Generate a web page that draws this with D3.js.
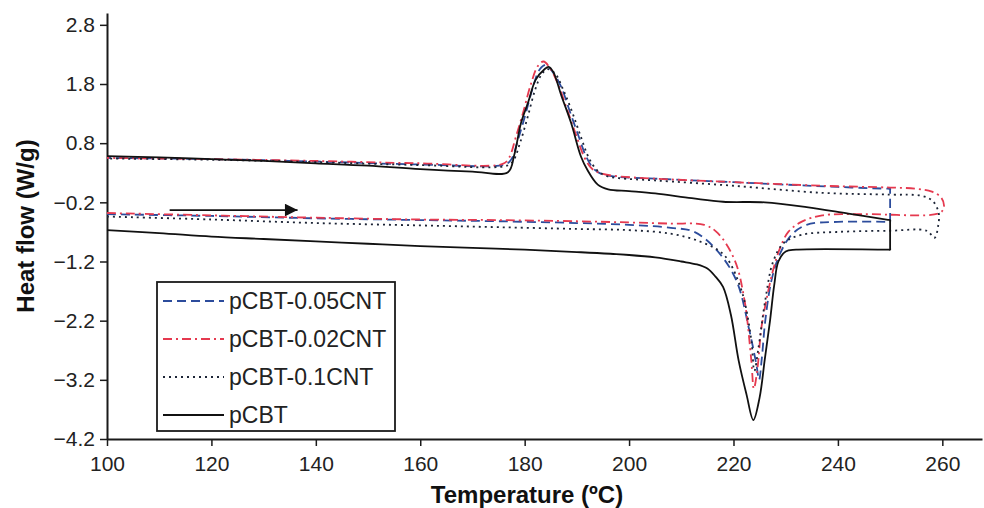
<!DOCTYPE html>
<html>
<head>
<meta charset="utf-8">
<script src="https://cdn.jsdelivr.net/npm/d3@7.9.0/dist/d3.min.js"></script>
<style>
  body { margin: 0; background: #fff; }
  svg { display: block; font-family: "Liberation Sans", Arial, sans-serif; }
</style>
</head>
<body>
<svg id="chart"></svg>
<script>
// DSC heat flow curves, heating (lower) then cooling (upper), [T, W/g]
const xTicks = [100, 120, 140, 160, 180, 200, 220, 240, 260];
const yTicks = [-4.2, -3.2, -2.2, -1.2, -0.2, 0.8, 1.8, 2.8];

const pcbt = [
  [100,-0.67],[110,-0.72],[120,-0.78],[130,-0.82],[140,-0.86],[150,-0.9],[160,-0.94],[170,-0.97],
  [180,-1.0],[190,-1.04],[200,-1.09],[205,-1.13],[210,-1.2],[213,-1.25],[215,-1.32],[216.5,-1.45],
  [218,-1.63],[219.5,-2.1],[221,-2.88],[222.5,-3.45],[223.8,-3.88],[225,-3.5],[226,-2.85],[227,-2.2],
  [227.8,-1.6],[228.6,-1.2],[230,-1.03],[232,-1.0],[249.7,-1.0],[250,-1.0],[250,-0.97],
  [250,-0.53],[250,-0.5],[249.6,-0.495],[242,-0.39],[234,-0.28],[226,-0.2],[218,-0.19],[212,-0.13],
  [205,-0.05],[200,-0.01],[196,0.02],[194,0.1],[192,0.35],[190.8,0.57],[188.9,1.14],[187,1.61],
  [185.5,2.0],[184.6,2.09],[183.8,2.05],[182.1,1.87],[180.7,1.5],[179.3,1.14],[178,0.6],[176.8,0.31],
  [170,0.32],[160,0.36],[150,0.42],[140,0.46],[130,0.5],[120,0.53],[110,0.56],[100,0.58]
];

const cnt002 = [
  [100,-0.38],[120,-0.42],[140,-0.46],[160,-0.49],[175,-0.5],[190,-0.52],[200,-0.54],[208,-0.56],
  [214.4,-0.58],[217,-0.72],[220.2,-1.17],[222.1,-1.85],[223.4,-2.86],[223.9,-3.35],[224.6,-3.0],
  [225.3,-2.35],[226.3,-1.85],[227.6,-1.34],[228.8,-1.0],[230.5,-0.7],[233,-0.53],[237,-0.42],
  [245,-0.4],[259.5,-0.38],
  [260.3,-0.28],[259.8,-0.12],[258,-0.02],[255,0.03],[250,0.05],[237,0.08],[218,0.15],[205,0.2],
  [198,0.24],[195,0.28],[193,0.36],[191.5,0.55],[189.8,0.95],[188.2,1.35],[186.6,1.75],[185,2.05],
  [183.6,2.18],[182.5,2.1],[181.2,1.8],[179.8,1.35],[178.3,0.9],[177,0.55],[175.8,0.45],[160,0.46],
  [140,0.5],[120,0.53],[100,0.55]
];

const cnt005 = [
  [100,-0.40],[120,-0.43],[140,-0.47],[160,-0.5],[175,-0.52],[190,-0.55],[200,-0.58],[208,-0.63],
  [212.5,-0.70],[216.7,-1.0],[220.5,-1.51],[223,-2.35],[224.4,-2.95],[224.9,-3.2],[225.4,-2.86],
  [226.1,-2.19],[227.3,-1.51],[228.8,-1.09],[231.1,-0.75],[234,-0.58],[240,-0.53],[249.7,-0.53],
  [250,-0.53],[250,-0.5],[250,0.0],[250,0.03],[249.7,0.03],
  [240,0.06],[220,0.14],[205,0.2],[198,0.23],[195,0.27],[193.3,0.36],[191.9,0.55],
  [190.2,0.95],[188.6,1.35],[187,1.75],[185.4,2.0],[184,2.12],[182.9,2.05],[181.6,1.75],[180.2,1.3],
  [178.7,0.85],[177.4,0.52],[176.2,0.44],[160,0.44],[140,0.49],[120,0.53],[100,0.55]
];

const cnt01 = [
  [100,-0.44],[120,-0.49],[140,-0.55],[160,-0.59],[175,-0.62],[190,-0.65],[200,-0.67],[208,-0.73],
  [213.8,-0.87],[218.2,-1.09],[221.5,-1.68],[223.4,-2.52],[224,-3.05],[224.8,-2.65],[226.1,-1.85],
  [227.6,-1.2],[229.6,-0.89],[233,-0.75],[240,-0.7],[250,-0.68],[257,-0.68],[258.5,-0.8],
  [259.2,-0.6],[259.3,-0.38],[258.2,-0.18],[256,-0.09],[250,-0.07],[237,-0.04],[220,0.08],[205,0.17],
  [198,0.21],[195.5,0.25],[193.8,0.35],[192.3,0.55],[190.6,0.95],[189,1.35],[187.4,1.7],[185.8,1.98],
  [184.4,2.05],[183.3,1.97],[182,1.7],[180.6,1.25],[179.1,0.8],[177.8,0.5],[176.6,0.42],[160,0.43],
  [140,0.48],[120,0.52],[100,0.54]
];

const seriesNames = ["pCBT-0.05CNT", "pCBT-0.02CNT", "pCBT-0.1CNT", "pCBT"];
const seriesData = [cnt005, cnt002, cnt01, pcbt];
const arrowFrom = [112, -0.33], arrowTo = [136.5, -0.33];

const width = 984, height = 508;
const styles = [
  { color: "#2c4c9c", dash: "9,5", w: 1.8 },
  { color: "#e5394f", dash: "9,4,2,4", w: 1.8 },
  { color: "#1c2436", dash: "2,4", w: 1.8 },
  { color: "#111", dash: null, w: 1.8 }
];

const svg = d3.select("#chart").attr("width", width).attr("height", height);

const x = d3.scaleLinear().domain([100, 267.6]).range([107, 982]);
const y = d3.scaleLinear().domain([-4.2, 3.0]).range([439, 13]);

// axes
const xAxis = svg.append("g")
  .attr("transform", `translate(0,${y(-4.2)})`)
  .call(d3.axisBottom(x).tickValues(xTicks).tickSize(7).tickSizeOuter(0).tickFormat(d3.format("d")));
const yAxis = svg.append("g")
  .attr("transform", `translate(${x(100)},0)`)
  .call(d3.axisLeft(y).tickValues(yTicks).tickSize(7).tickSizeOuter(0).tickFormat(d3.format(".1f")));

[xAxis, yAxis].forEach(g => {
  g.select(".domain").attr("stroke", "#1a1a1a").attr("stroke-width", 2);
  g.selectAll(".tick line").attr("stroke", "#1a1a1a").attr("stroke-width", 1.5);
  g.selectAll(".tick text").attr("fill", "#222").attr("font-size", 21)
    .attr("font-family", "'Liberation Sans', Arial, sans-serif");
});
xAxis.selectAll(".tick text").attr("dy", "1.05em");
yAxis.selectAll(".tick text").attr("x", -12);

svg.append("text")
  .attr("x", 527).attr("y", 503)
  .attr("text-anchor", "middle")
  .attr("font-size", 24).attr("font-weight", "bold").attr("fill", "#111")
  .text("Temperature (ºC)");

svg.append("text")
  .attr("transform", `translate(34,${226}) rotate(-90)`)
  .attr("text-anchor", "middle")
  .attr("font-size", 24).attr("font-weight", "bold").attr("fill", "#111")
  .text("Heat flow (W/g)");

// curves
const line = d3.line()
  .x(d => x(d[0]))
  .y(d => y(d[1]))
  .curve(d3.curveCatmullRom.alpha(0.5));

svg.append("g").selectAll("path")
  .data(seriesData)
  .enter()
  .append("path")
  .attr("d", d => line(d))
  .attr("fill", "none")
  .attr("stroke", (d, i) => styles[i].color)
  .attr("stroke-width", (d, i) => styles[i].w)
  .attr("stroke-dasharray", (d, i) => styles[i].dash)
  .attr("stroke-linejoin", "round");

// heating direction arrow
svg.append("defs").append("marker")
  .attr("id", "head")
  .attr("viewBox", "0 0 10 10")
  .attr("refX", 10).attr("refY", 5)
  .attr("markerWidth", 9).attr("markerHeight", 7)
  .attr("markerUnits", "strokeWidth")
  .attr("orient", "auto")
  .append("path").attr("d", "M0,0L10,5L0,10Z").attr("fill", "#111");

svg.append("line")
  .attr("x1", x(arrowFrom[0])).attr("y1", y(arrowFrom[1]))
  .attr("x2", x(arrowTo[0])).attr("y2", y(arrowTo[1]))
  .attr("stroke", "#111").attr("stroke-width", 1.8)
  .attr("marker-end", "url(#head)");

// legend
const legend = svg.append("g").attr("transform", "translate(157,282)");
legend.append("rect")
  .attr("width", 238).attr("height", 149)
  .attr("fill", "#fff").attr("stroke", "#1a1a1a").attr("stroke-width", 1.8);

const item = legend.selectAll("g.item")
  .data(seriesNames)
  .enter()
  .append("g")
  .attr("class", "item")
  .attr("transform", (d, i) => `translate(0,${19 + i * 38})`);

item.append("line")
  .attr("x1", 6).attr("x2", 67)
  .attr("stroke", (d, i) => styles[i].color)
  .attr("stroke-width", (d, i) => styles[i].w)
  .attr("stroke-dasharray", (d, i) => styles[i].dash);

item.append("text")
  .attr("x", 72).attr("dy", "0.35em")
  .attr("font-size", 23).attr("fill", "#222")
  .text(d => d);
</script>
</body>
</html>
